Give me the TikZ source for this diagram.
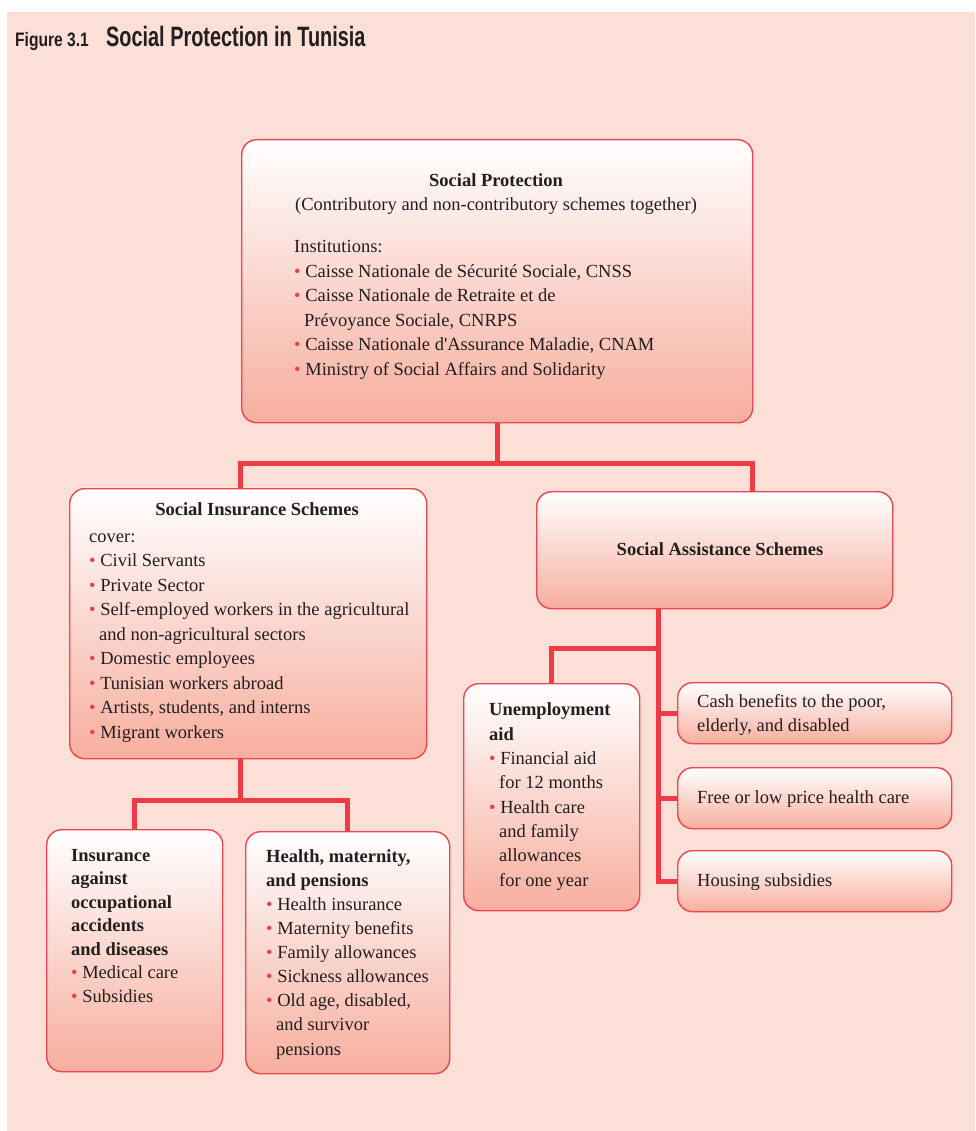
\documentclass[tikz,border=0pt]{standalone}
\usepackage{fontspec}
\setmainfont{Liberation Serif}
\newfontfamily\headfont[FakeStretch=0.71]{Liberation Sans}
\newfontfamily\numfont[FakeStretch=0.8]{Liberation Sans}
\usepackage{xcolor}
\usepackage{tikz}
\usetikzlibrary{positioning,calc}

\definecolor{bgpink}{HTML}{FCDFD6}
\definecolor{boxred}{HTML}{EE4552}
\definecolor{linkred}{HTML}{EE3B45}
\definecolor{boxbottom}{HTML}{F7AE9E}
\definecolor{inktext}{HTML}{231F20}
\definecolor{bulletred}{HTML}{E8404A}

\newcommand{\bul}{{\color{bulletred}\textbullet}\ }
\newcommand{\hang}{\hspace*{10pt}}

\tikzset{
  box/.style={draw=boxred, line width=1.4pt, rounded corners=15pt,
    top color=white, bottom color=boxbottom, anchor=north west, inner sep=0pt},
  link/.style={draw=linkred, line width=5pt},
  txt/.style={anchor=base west, inner sep=0pt, align=left, text=inktext,
    font=\fontsize{18.5}{24.5}\selectfont},
  headtxt/.style={txt, anchor=base, align=center, font=\fontsize{18.5}{24}\selectfont\bfseries},
}

\begin{document}
\begin{tikzpicture}[x=1pt,y=-1pt]

% frame
\useasboundingbox (0,0) rectangle (975,1131);
\fill[bgpink] (7,12) rectangle (975,1131);
\node[anchor=base west, inner sep=0pt, text=inktext, font=\numfont\bfseries\fontsize{19.5}{20}\selectfont] (fignum) at (15,47) {Figure 3.1};
\node[anchor=base west, inner sep=0pt, text=inktext, font=\headfont\bfseries\fontsize{28}{30}\selectfont] (figtitle) at (106,47) {Social Protection in Tunisia};

% boxes
\node[box, minimum width=511pt, minimum height=283pt] (sp) at (241,139) {};
\node[box, minimum width=357pt, minimum height=270pt] (sis) at (69,488) {};
\node[box, minimum width=356pt, minimum height=117pt] (sas) at (536,491) {};
\node[box, minimum width=176pt, minimum height=242pt] (occ) at (46,829) {};
\node[box, minimum width=204pt, minimum height=242pt] (hmp) at (245,831) {};
\node[box, minimum width=176pt, minimum height=227pt] (un) at (463,683) {};
\node[box, minimum width=274pt, minimum height=61pt] (cash) at (677,682) {};
\node[box, minimum width=274pt, minimum height=61pt] (free) at (677,767) {};
\node[box, minimum width=274pt, minimum height=61pt] (house) at (677,850) {};

% connectors
\coordinate (sisin) at (240,488);
\coordinate (sasin) at (752,491);
\coordinate (sisout) at (240,758);
\coordinate (sasout) at (658,608);
\draw[link] (sp.south) -- ++(0,40) -| (sisin);
\draw[link] (sp.south) ++(0,40) -| (sasin);
\draw[link] (sisout) -- ++(0,42) -| (occ.north);
\draw[link] (sisout) ++(0,42) -| (hmp.north);
\draw[link] (sasout) |- (house.west);
\draw[link] (sasout) ++(0,40) -| (un.north);
\draw[link] (sasout |- cash.west) -- (cash.west);
\draw[link] (sasout |- free.west) -- (free.west);

% texts (multi-line nodes sit on their last line)
\node[headtxt] (sphead) at (496,211) {Social Protection\\\mdseries(Contributory and non-contributory schemes together)};
\node[txt] (splist) at (294,375) {Institutions:\\
  \bul Caisse Nationale de Sécurité Sociale, CNSS\\
  \bul Caisse Nationale de Retraite et de\\
  \hang Prévoyance Sociale, CNRPS\\
  \bul Caisse Nationale d\textquotesingle Assurance Maladie, CNAM\\
  \bul Ministry of Social Affairs and Solidarity};

\node[headtxt] (sishead) at (257,515) {Social Insurance Schemes};
\node[txt] (sislist) at (89,738) {cover:\\
  \bul Civil Servants\\
  \bul Private Sector\\
  \bul Self-employed workers in the agricultural\\
  \hang and non-agricultural sectors\\
  \bul Domestic employees\\
  \bul Tunisian workers abroad\\
  \bul Artists, students, and interns\\
  \bul Migrant workers};

\node[headtxt] (sashead) at (720,555) {Social Assistance Schemes};

\node[txt, font=\fontsize{18.5}{23.5}\selectfont] (occlist) at (71,1002) {\textbf{Insurance}\\
  \textbf{against}\\
  \textbf{occupational}\\
  \textbf{accidents}\\
  \textbf{and diseases}\\
  \bul Medical care\\
  \bul Subsidies};

\node[txt, font=\fontsize{18.5}{24.1}\selectfont] (hmplist) at (266,1055) {\textbf{Health, maternity,}\\
  \textbf{and pensions}\\
  \bul Health insurance\\
  \bul Maternity benefits\\
  \bul Family allowances\\
  \bul Sickness allowances\\
  \bul Old age, disabled,\\
  \hang and survivor\\
  \hang pensions};

\node[txt, font=\fontsize{18.5}{24.3}\selectfont] (unlist) at (489,886) {\textbf{Unemployment}\\
  \textbf{aid}\\
  \bul Financial aid\\
  \hang for 12 months\\
  \bul Health care\\
  \hang and family\\
  \hang allowances\\
  \hang for one year};

\node[txt, font=\fontsize{18.5}{24}\selectfont] (cashtxt) at (697,731) {Cash benefits to the poor,\\elderly, and disabled};
\node[txt] (freetxt) at (697,803) {Free or low price health care};
\node[txt] (housetxt) at (697,886) {Housing subsidies};

\end{tikzpicture}
\end{document}
